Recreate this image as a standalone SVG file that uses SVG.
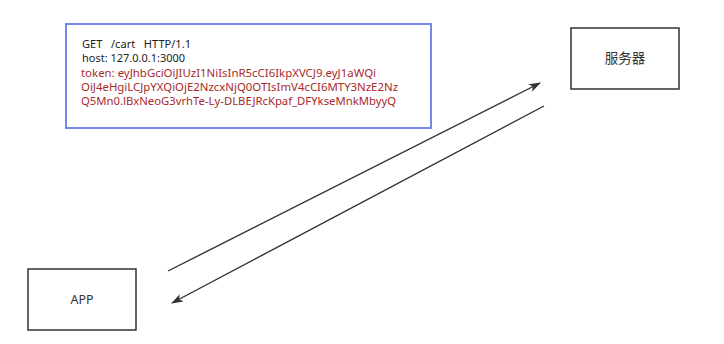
<svg xmlns="http://www.w3.org/2000/svg" width="724" height="344" viewBox="0 0 724 344">
  <defs>
    <marker id="arrow" viewBox="0 0 12 10" refX="11" refY="5" markerWidth="12" markerHeight="10" markerUnits="userSpaceOnUse" orient="auto">
      <path d="M0,0.8 L12,5 L0,9.2 L3,5 Z" fill="#333"/>
    </marker>
  </defs>
  <style>
    .box { fill: #fff; stroke: #333; stroke-width: 1.5; }
    .req { fill: #fff; stroke: #7189ef; stroke-width: 2; }
    .t { font-family: "Noto Sans", "Liberation Sans", "Noto Sans CJK SC", sans-serif; font-size: 11.5px; fill: #222; }
    .red { fill: #a82a2a; }
    .label { font-family: "Noto Sans", "Liberation Sans", "Noto Sans CJK SC", sans-serif; font-size: 12.5px; fill: #333; text-anchor: middle; }
    .cjk { font-size: 13.5px; }
    .conn { stroke: #333; stroke-width: 1.4; fill: none; marker-end: url(#arrow); }
  </style>

  <rect width="724" height="344" fill="#fff"/>

  <!-- HTTP request note -->
  <g id="request">
    <rect class="req" x="66" y="24" width="365" height="104"/>
    <text class="t" x="82" y="48" textLength="109" lengthAdjust="spacingAndGlyphs" xml:space="preserve">GET   /cart   HTTP/1.1</text>
    <text class="t" x="82" y="62" textLength="103" lengthAdjust="spacingAndGlyphs">host: 127.0.0.1:3000</text>
    <text class="t red" x="81" y="76.5" textLength="295" lengthAdjust="spacingAndGlyphs">token: eyJhbGciOiJIUzI1NiIsInR5cCI6IkpXVCJ9.eyJ1aWQi</text>
    <text class="t red" x="81" y="90.5" textLength="317" lengthAdjust="spacingAndGlyphs">OiJ4eHgiLCJpYXQiOjE2NzcxNjQ0OTIsImV4cCI6MTY3NzE2Nz</text>
    <text class="t red" x="81" y="104.5" textLength="315" lengthAdjust="spacingAndGlyphs">Q5Mn0.lBxNeoG3vrhTe-Ly-DLBEJRcKpaf_DFYkseMnkMbyyQ</text>
  </g>

  <!-- server -->
  <g id="server">
    <rect class="box" x="571" y="28" width="108" height="61"/>
    <text class="label cjk" x="625" y="63">服务器</text>
  </g>

  <!-- client app -->
  <g id="app">
    <rect class="box" x="28" y="269" width="108" height="61"/>
    <text class="label" x="82" y="304">APP</text>
  </g>

  <!-- request / response connectors -->
  <g id="connectors">
    <line class="conn" x1="168" y1="271" x2="540" y2="83"/>
    <line class="conn" x1="544" y1="106" x2="172" y2="303"/>
  </g>
</svg>
